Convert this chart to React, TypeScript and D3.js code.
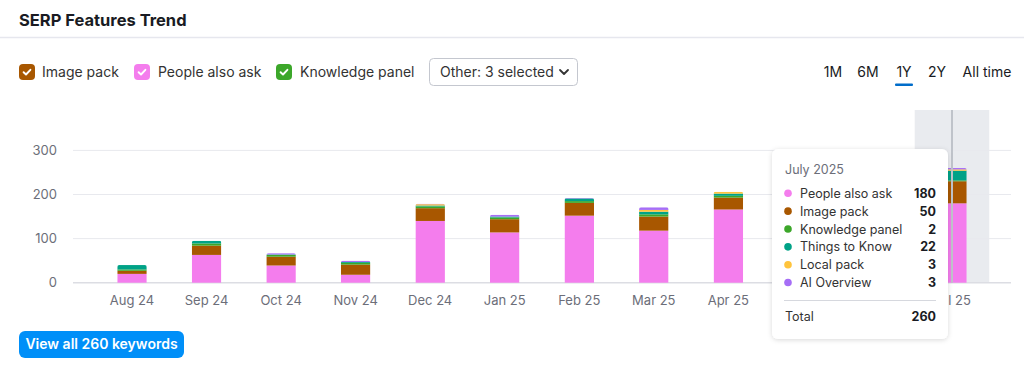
import React from "react";
import * as d3 from "d3";

const months = ["Aug 24", "Sep 24", "Oct 24", "Nov 24", "Dec 24", "Jan 25", "Feb 25", "Mar 25", "Apr 25", "May 25", "Jun 25", "Jul 25"];
const peopleAlsoAsk = [20, 63, 39, 18, 140, 114, 152, 118, 166, 170, 175, 180];
const imagePack = [7, 21, 20, 23, 29, 30, 29, 32, 27, 35, 42, 50];
const knowledgePanel = [3, 5, 4, 4, 4, 4, 4, 5, 4, 3, 2, 2];
const thingsToKnow = [10, 6, 1, 2, 2, 2, 6, 6, 5, 12, 18, 22];
const localPack = [0, 0, 0, 0, 3, 0, 0, 4, 4, 3, 3, 3];
const aiOverview = [0, 0, 3, 3, 1, 4, 1, 6, 0, 2, 3, 3];
const yTicks = [0, 100, 200, 300];
const periods = ["1M", "6M", "1Y", "2Y", "All time"];

const seriesNames = ["People also ask", "Image pack", "Knowledge panel", "Things to Know", "Local pack", "AI Overview"];
const seriesValues = [peopleAlsoAsk, imagePack, knowledgePanel, thingsToKnow, localPack, aiOverview];
const seriesColors = ["#f47ded", "#a85700", "#3ca72a", "#00a287", "#ffc43d", "#a66ef6"];

const FONT = "Inter, 'Noto Sans', sans-serif";

function Check({ x, y, color }: { x: number; y: number; color: string }) {
  return (
    <g transform={`translate(${x},${y})`}>
      <rect width={16} height={16} rx={4} fill={color} />
      <path d="M4.6 8.2 L7 10.5 L11.4 5.8" fill="none" stroke="#fff" strokeWidth={1.9} strokeLinecap="round" strokeLinejoin="round" />
    </g>
  );
}

export default function App() {
  const rows = months.map((m, i) => {
    const r: any = { month: m };
    seriesNames.forEach((s, k) => (r[s] = seriesValues[k][i]));
    return r;
  });
  const stacked = d3.stack<any>().keys(seriesNames)(rows);
  const x = d3.scaleBand<string>().domain(months).range([94.75, 989.25]).paddingInner(0.6).paddingOuter(0.3);
  const xc = d3.scaleBand<string>().domain(months).range([94.75, 989.25]);
  const y = d3.scaleLinear().domain([0, 300]).range([282.7, 150.4]);
  const bw = 29.5;
  const hiIdx = 11;
  const hiMonth = months[hiIdx];
  const hiX = xc(hiMonth)!;
  const hiC = hiX + xc.bandwidth() / 2;
  const totals = months.map((_, i) => seriesValues.reduce((a, s) => a + s[i], 0));

  const tipX = 772, tipY = 149, tipW = 176, tipH = 190;
  const order = [0, 1, 2, 3, 4, 5];
  const periodX = [833, 868, 904, 937, 987];

  return (
    <svg width={1024} height={370} style={{ position: "absolute", left: 0, top: 0, fontFamily: FONT }}>
      <defs>
        <filter id="sh" x="-20%" y="-20%" width="140%" height="140%">
          <feDropShadow dx="0" dy="1" stdDeviation="2.5" floodColor="#000" floodOpacity="0.15" />
        </filter>
        {months.map((m, i) => (
          <clipPath id={`c${i}`} key={m}>
            <rect x={xc(m)! + xc.bandwidth() / 2 - bw / 2} y={y(totals[i])} width={bw} height={y(0) - y(totals[i]) + 2} rx={2} />
          </clipPath>
        ))}
      </defs>
      <rect width={1024} height={370} fill="#fff" />
      <text x={19} y={25.5} fontSize={16.5} fontWeight={700} fill="#191b23">SERP Features Trend</text>
      <line x1={0} x2={1024} y1={37.5} y2={37.5} stroke="#e6e7ee" strokeWidth={1.5} />

      <Check x={19} y={64} color="#a85700" />
      <text x={42} y={77} fontSize={14} fill="#333">Image pack</text>
      <Check x={134} y={64} color="#f47ded" />
      <text x={158} y={77} fontSize={14} fill="#333">People also ask</text>
      <Check x={276} y={64} color="#3ca72a" />
      <text x={300} y={77} fontSize={14} fill="#333">Knowledge panel</text>
      <rect x={429.5} y={58.5} width={148} height={27} rx={4} fill="#fff" stroke="#c4c7cf" />
      <text x={440} y={77} fontSize={14} fill="#333">Other: 3 selected</text>
      <path d="M560 70 L564 74 L568 70" fill="none" stroke="#333" strokeWidth={1.8} strokeLinecap="round" strokeLinejoin="round" />

      {periods.map((p, i) => (
        <text key={p} x={periodX[i]} y={77} fontSize={14} fill="#191b23" textAnchor="middle">{p}</text>
      ))}
      <rect x={895} y={83.5} width={18} height={2.5} fill="#006dca" rx={1} />

      <rect x={hiX} y={110} width={xc.bandwidth()} height={y(0) - 110} fill="#e9ebef" />

      {yTicks.map((t) => (
        <g key={t}>
          <line x1={73} x2={1011} y1={y(t)} y2={y(t)} stroke={t === 0 ? "#dcdde3" : "#e8e9ee"} strokeWidth={t === 0 ? 1.6 : 1} />
          <text x={57} y={y(t) + 4.5} fontSize={13} fill="#6c6e79" textAnchor="end">{t}</text>
        </g>
      ))}

      {months.map((m, i) => (
        <g key={m} clipPath={`url(#c${i})`}>
          {stacked.map((s, k) => {
            const d = s[i];
            if (d[1] - d[0] <= 0) return null;
            return (
              <rect key={k} x={xc(m)! + xc.bandwidth() / 2 - bw / 2} y={y(d[1])} width={bw} height={y(d[0]) - y(d[1])} fill={seriesColors[k]} />
            );
          })}
        </g>
      ))}

      <line x1={hiC} x2={hiC} y1={110} y2={y(0)} stroke="#bfc3ca" strokeWidth={2} />

      {months.map((m) => (
        <text key={m} x={xc(m)! + xc.bandwidth() / 2} y={305} fontSize={13} fill="#6c6e79" textAnchor="middle">{m}</text>
      ))}

      <g filter="url(#sh)">
        <rect x={tipX} y={tipY} width={tipW} height={tipH} rx={6} fill="#fff" />
      </g>
      <text x={785} y={173.5} fontSize={12.5} fill="#6c6e79">July 2025</text>
      {order.map((k, j) => {
        const cy = 193.3 + j * 17.85;
        return (
          <g key={k}>
            <circle cx={788} cy={cy} r={3.8} fill={seriesColors[k]} />
            <text x={800} y={cy + 4.5} fontSize={12.5} fill="#333">{seriesNames[k]}</text>
            <text x={936} y={cy + 4.5} fontSize={12.5} fontWeight={700} fill="#191b23" textAnchor="end">{seriesValues[k][hiIdx]}</text>
          </g>
        );
      })}
      <line x1={784} x2={936} y1={300.5} y2={300.5} stroke="#d6d8de" />
      <text x={785} y={321} fontSize={12.5} fill="#333">Total</text>
      <text x={936} y={321} fontSize={12.5} fontWeight={700} fill="#191b23" textAnchor="end">{totals[hiIdx]}</text>

      <rect x={19} y={331} width={165} height={27} rx={6} fill="#008ff8" />
      <text x={101.5} y={349} fontSize={14} fontWeight={600} fill="#fff" textAnchor="middle">View all 260 keywords</text>
    </svg>
  );
}
